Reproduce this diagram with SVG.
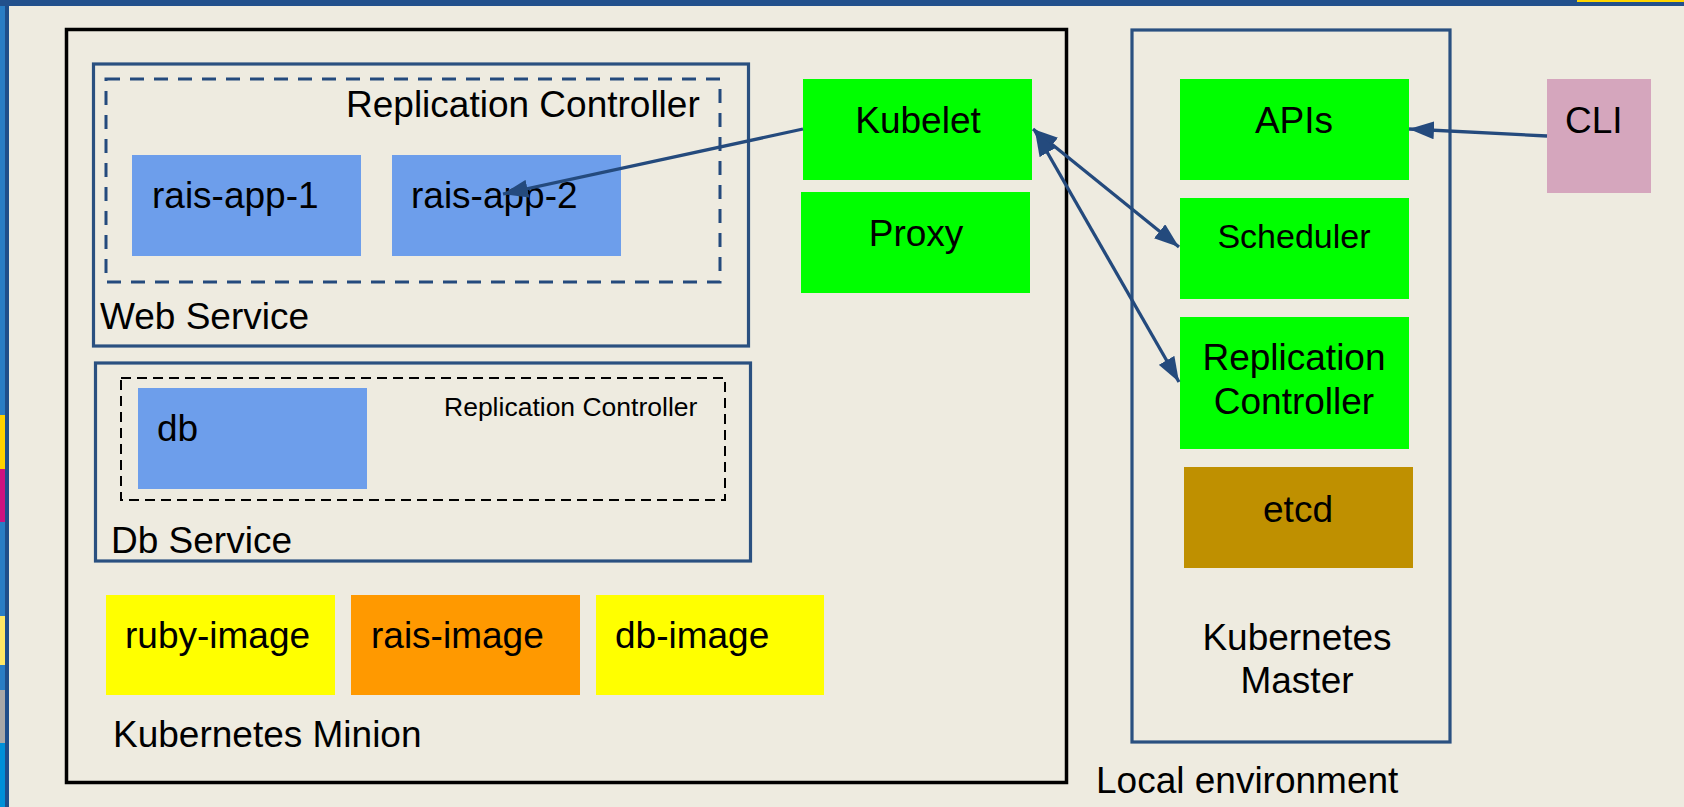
<svg xmlns="http://www.w3.org/2000/svg" width="1684" height="807" viewBox="0 0 1684 807">
<defs>
<style>
text{font-family:"Liberation Sans",Arial,sans-serif;fill:#000;font-size:37px}
.mid{text-anchor:middle}
.svc{fill:none;stroke:#2a5080;stroke-width:3.2}
.green{fill:#00ff00}
.pod{fill:#6d9eeb}
.conn{fill:none;stroke:#244a7d;stroke-width:3.3}
</style>
<marker id="ah" viewBox="0 0 25 18" markerUnits="userSpaceOnUse" markerWidth="25" markerHeight="18" refX="25" refY="9" orient="auto-start-reverse">
<path d="M0,0 L25,9 L0,18 z" fill="#244a7d"/>
</marker>
</defs>
<g id="background">
<rect x="0" y="0" width="1684" height="807" fill="#eeebe0"/>
<rect x="0" y="0" width="5" height="807" fill="#2a7dc4"/>
<rect x="0" y="415" width="5" height="54" fill="#ffd200"/>
<rect x="0" y="469" width="5" height="53" fill="#cc1480"/>
<rect x="0" y="616" width="5" height="49" fill="#ffe866"/>
<rect x="0" y="690" width="5" height="53" fill="#a8a8a8"/>
<rect x="0" y="743" width="5" height="64" fill="#0090d8"/>
<rect x="5" y="0" width="4" height="807" fill="#1f4e8a"/>
<rect x="0" y="0" width="1684" height="6" fill="#22508c"/>
<rect x="1577" y="0" width="107" height="2" fill="#ffd500"/>
</g>
<g id="minion">
<rect x="66.5" y="29.5" width="1000" height="753" fill="none" stroke="#000" stroke-width="3.5"/>
<text x="113" y="747">Kubernetes Minion</text>
</g>
<g id="web-service">
<rect class="svc" x="93.5" y="64" width="655" height="282"/>
<text x="100" y="329">Web Service</text>
</g>
<g id="web-rc">
<rect x="106" y="79" width="614" height="203" fill="none" stroke="#244a7d" stroke-width="3" stroke-dasharray="14,10"/>
<text x="346" y="117">Replication Controller</text>
</g>
<g id="rais-app-1">
<rect class="pod" x="132" y="155" width="229" height="101"/>
<text x="152" y="208">rais-app-1</text>
</g>
<g id="rais-app-2">
<rect class="pod" x="392" y="155" width="229" height="101"/>
<text x="411" y="208">rais-app-2</text>
</g>
<g id="db-service">
<rect class="svc" x="95.5" y="363" width="655" height="198"/>
<text x="111" y="553">Db Service</text>
</g>
<g id="db-rc">
<rect x="121" y="378" width="604" height="122" fill="none" stroke="#000" stroke-width="2" stroke-dasharray="10,6"/>
<text x="444" y="416" style="font-size:26.5px">Replication Controller</text>
</g>
<g id="db">
<rect class="pod" x="138" y="388" width="229" height="101"/>
<text x="157" y="441">db</text>
</g>
<g id="ruby-image">
<rect x="106" y="595" width="229" height="100" fill="#ffff00"/>
<text x="125" y="648">ruby-image</text>
</g>
<g id="rais-image">
<rect x="351" y="595" width="229" height="100" fill="#ff9900"/>
<text x="371" y="648">rais-image</text>
</g>
<g id="db-image">
<rect x="596" y="595" width="228" height="100" fill="#ffff00"/>
<text x="615" y="648">db-image</text>
</g>
<g id="kubelet">
<rect class="green" x="803" y="79" width="229" height="101"/>
<text class="mid" x="918" y="133">Kubelet</text>
</g>
<g id="proxy">
<rect class="green" x="801" y="192" width="229" height="101"/>
<text class="mid" x="916" y="246">Proxy</text>
</g>
<g id="master">
<rect class="svc" x="1132" y="30" width="318" height="712"/>
<text class="mid" x="1297" y="650">Kubernetes</text>
<text class="mid" x="1297" y="693">Master</text>
</g>
<g id="apis">
<rect class="green" x="1180" y="79" width="229" height="101"/>
<text class="mid" x="1294" y="133">APIs</text>
</g>
<g id="scheduler">
<rect class="green" x="1180" y="198" width="229" height="101"/>
<text class="mid" x="1294" y="248" style="font-size:34px">Scheduler</text>
</g>
<g id="master-rc">
<rect class="green" x="1180" y="317" width="229" height="132"/>
<text class="mid" x="1294" y="370">Replication</text>
<text class="mid" x="1294" y="414">Controller</text>
</g>
<g id="etcd">
<rect x="1184" y="467" width="229" height="101" fill="#bf9000"/>
<text class="mid" x="1298" y="522">etcd</text>
</g>
<g id="cli">
<rect x="1547" y="79" width="104" height="114" fill="#d5a6bd"/>
<text x="1565" y="133">CLI</text>
</g>
<g id="local-env">
<text x="1096" y="793">Local environment</text>
</g>
<g id="connectors">
<line class="conn" x1="803" y1="129" x2="503" y2="194" marker-end="url(#ah)"/>
<line class="conn" x1="1033" y1="129" x2="1179" y2="247" marker-start="url(#ah)" marker-end="url(#ah)"/>
<line class="conn" x1="1035" y1="131" x2="1179" y2="382" marker-start="url(#ah)" marker-end="url(#ah)"/>
<line class="conn" x1="1547" y1="136" x2="1409" y2="129" marker-end="url(#ah)"/>
</g>
</svg>
